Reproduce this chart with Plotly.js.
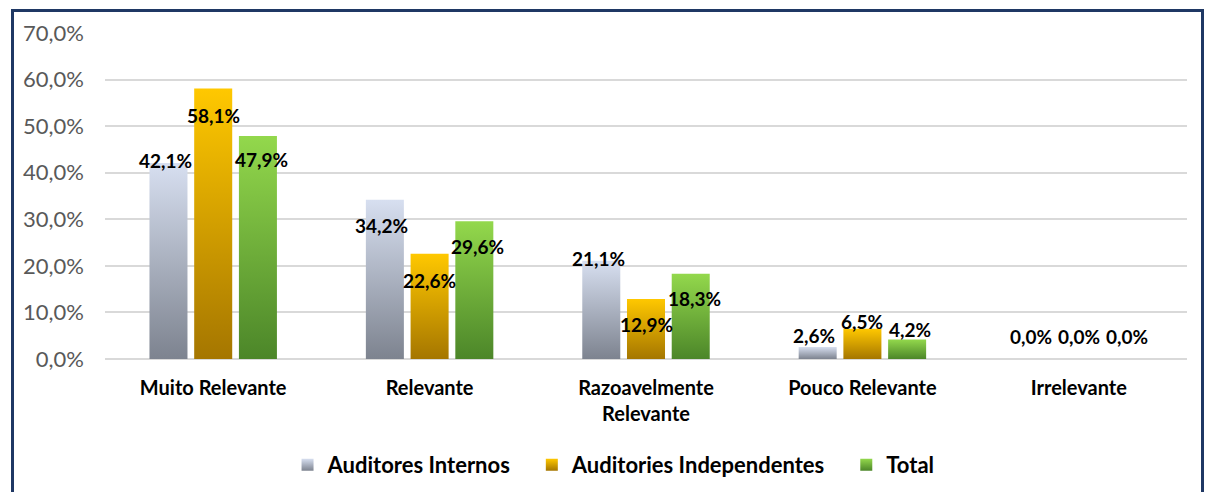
<!DOCTYPE html>
<html><head><meta charset="utf-8">
<script src="https://cdn.plot.ly/plotly-3.0.1.min.js"></script>
<style>
html,body{margin:0;padding:0;background:#fff;overflow:hidden;}
#chart{position:absolute;left:0;top:0;width:1209px;height:492px;}
#frame{position:absolute;left:11px;top:9px;width:1187px;height:500px;border:3px solid #1f3864;pointer-events:none;}
</style></head>
<body>
<div id="chart"></div>
<div id="frame"></div>
<script>
const categories = ['Muito Relevante', 'Relevante', 'Razoavelmente<br>Relevante', 'Pouco Relevante', 'Irrelevante'];
const seriesNames = ['Auditores Internos', 'Auditories Independentes', 'Total'];
const internos = [42.1, 34.2, 21.1, 2.6, 0.0];
const independentes = [58.1, 22.6, 12.9, 6.5, 0.0];
const total = [47.9, 29.6, 18.3, 4.2, 0.0];
const yTicks = [0, 10, 20, 30, 40, 50, 60, 70];

// label vertical offsets (px, relative to bar top) — style only
const labelShift = [
  [2, -26, 2, 11, 23],
  [-27, -27, -26, 7, 23],
  [-24, -25, -25, 10, 23]
];
const gradients = [['#d7dff0', '#7d838f'], ['#ffc800', '#a57600'], ['#93d84c', '#4c8629']];
const solid = ['#aab2c4', '#e0a400', '#72b03b'];
const allSeries = [internos, independentes, total];

const FONT = 'Lato, "Open Sans", sans-serif';
const traces = allSeries.map((vals, i) => ({
  type: 'bar', name: seriesNames[i], x: categories, y: vals,
  marker: {color: solid[i]}, hoverinfo: 'skip'
}));

const annotations = [];
allSeries.forEach((vals, i) => {
  vals.forEach((v, j) => {
    annotations.push({
      x: categories[j], y: v, xref: 'x', yref: 'y',
      text: '<b>' + v.toFixed(1).replace('.', ',') + '%</b>',
      showarrow: false, xshift: (i - 1) * 48, yshift: labelShift[i][j],
      yanchor: 'middle', xanchor: 'center',
      font: {family: FONT, size: 19, color: '#000'}
    });
  });
});

const layout = {
  width: 1209, height: 492,
  margin: {l: 105, r: 22, t: 33, b: 133, autoexpand: false},
  paper_bgcolor: '#fff', plot_bgcolor: '#fff',
  separators: ',.',
  barmode: 'group', bargap: 0.38, bargroupgap: 0.15,
  showlegend: true,
  legend: {orientation: 'h', x: 0.47, xanchor: 'center', y: -0.325, yanchor: 'middle',
    font: {family: FONT, size: 22, color: '#000', weight: 'bold'}, itemwidth: 30,
    traceorder: 'normal'},
  xaxis: {
    tickfont: {family: FONT, size: 20, color: '#000', weight: 'bold'},
    showline: false, ticks: '', ticklabelstandoff: 15, fixedrange: true, automargin: false
  },
  yaxis: {
    range: [0, 70], tickvals: yTicks, ticktext: yTicks.map(t => t.toFixed(1).replace('.', ',') + '%'),
    tickfont: {family: FONT, size: 22, color: '#595959'},
    gridcolor: '#d9d9d9', gridwidth: 2, zeroline: true, zerolinecolor: '#d9d9d9', zerolinewidth: 2,
    showline: false, ticks: '', ticklabelstandoff: 20, fixedrange: true, automargin: false
  },
  annotations: annotations
};

Plotly.newPlot('chart', traces, layout, {displayModeBar: false, staticPlot: true}).then(gd => {
  const svg = gd.querySelector('svg.main-svg');
  let defs = svg.querySelector('defs');
  const NS = 'http://www.w3.org/2000/svg';
  gradients.forEach((g, i) => {
    const lg = document.createElementNS(NS, 'linearGradient');
    lg.setAttribute('id', 'barGrad' + i);
    lg.setAttribute('x1', '0'); lg.setAttribute('y1', '0');
    lg.setAttribute('x2', '0'); lg.setAttribute('y2', '1');
    [[0, g[0]], [1, g[1]]].forEach(([o, c]) => {
      const s = document.createElementNS(NS, 'stop');
      s.setAttribute('offset', o); s.setAttribute('stop-color', c);
      lg.appendChild(s);
    });
    defs.appendChild(lg);
  });
  gd.querySelectorAll('.barlayer .trace').forEach((tr, i) => {
    tr.querySelectorAll('path').forEach(p => { p.style.fill = 'url(#barGrad' + i + ')'; });
  });
  // widen spacing between legend entries (style tweak)
  const extraGap = 16;
  const items = gd.querySelectorAll('.legend .traces');
  items.forEach((tr, i) => {
    tr.querySelectorAll('.legendpoints path').forEach(p => { p.style.fill = 'url(#barGrad' + i + ')'; });
    const t = tr.getAttribute('transform') || '';
    const m = t.match(/translate\(\s*([-\d.]+)[ ,]+([-\d.]+)\s*\)/);
    if (m) tr.setAttribute('transform', 'translate(' + (parseFloat(m[1]) + i * extraGap) + ',' + m[2] + ')');
  });
  const leg = gd.querySelector('g.legend');
  if (leg) {
    const t = leg.getAttribute('transform') || '';
    const m = t.match(/translate\(\s*([-\d.]+)[ ,]+([-\d.]+)\s*\)/);
    if (m) leg.setAttribute('transform', 'translate(' + (parseFloat(m[1]) - extraGap * (items.length - 1) / 2) + ',' + m[2] + ')');
    leg.querySelectorAll('[clip-path]').forEach(el => el.removeAttribute('clip-path'));
    const bg = leg.querySelector('rect.bg');
    if (bg) bg.setAttribute('width', parseFloat(bg.getAttribute('width')) + extraGap * (items.length - 1));
  }
});
</script>
</body></html>
